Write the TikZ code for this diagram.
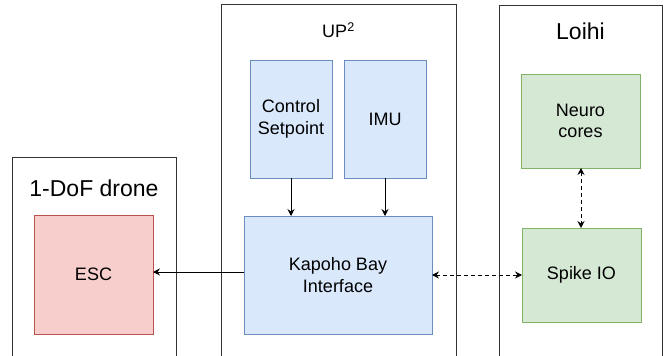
\documentclass[tikz,border=0pt]{standalone}
\usepackage{fontspec}
\setmainfont{Liberation Sans}
\usetikzlibrary{arrows.meta}
\definecolor{bluefill}{HTML}{DAE8FC}
\definecolor{bluedraw}{HTML}{6C8EBF}
\definecolor{redfill}{HTML}{F8CECC}
\definecolor{reddraw}{HTML}{B85450}
\definecolor{greenfill}{HTML}{D5E8D4}
\definecolor{greendraw}{HTML}{82B366}
\definecolor{outline}{HTML}{333333}
\begin{document}
\begin{tikzpicture}[x=1pt,y=-1pt,
  outerbox/.style={draw=outline,line width=0.9pt},
  blk/.style={draw,line width=0.8pt},
  bluebox/.style={blk,fill=bluefill,draw=bluedraw},
  redbox/.style={blk,fill=redfill,draw=reddraw},
  greenbox/.style={blk,fill=greenfill,draw=greendraw},
  lbl/.style={align=center,font=\fontsize{18}{21.5}\selectfont},
  title/.style={font=\fontsize{23}{27}\selectfont},
  conn/.style={line width=0.8pt,-{Stealth[length=7pt,width=7pt,inset=2.5pt]}},
  dconn/.style={line width=0.8pt,dash pattern=on 4pt off 3pt,{Stealth[length=7pt,width=7pt,inset=2.5pt]}-{Stealth[length=7pt,width=7pt,inset=2.5pt]}}
]
\useasboundingbox (0,0) rectangle (665,356);
\fill[white] (0,0) rectangle (665,356);
% outer containers
\draw[outerbox] (12,360) -- (12,157) -- (176,157) -- (176,360);
\draw[outerbox] (221,360) -- (221,4) -- (456,4) -- (456,360);
\draw[outerbox] (499,360) -- (499,5) -- (662,5) -- (662,360);
\node[title] (tdrone) at (94,188) {1-DoF drone};
\node[lbl] (tup) at (338.5,30) {UP\textsuperscript{2}};
\node[title] (tloihi) at (580.5,31) {Loihi};
% blocks
\path[redbox] (34,215) rectangle (153,334);
\node[lbl] (esc) at (93.5,274.5) {ESC};
\coordinate (escE) at (153,272);
\path[bluebox] (250,60) rectangle (332,178);
\node[lbl] (ctrl) at (291,119) {Control\\Setpoint};
\path[bluebox] (344,60) rectangle (426,178);
\node[lbl] (imu) at (385,119) {IMU};
\path[bluebox] (244,216) rectangle (432,334);
\node[lbl] (kb) at (338,275) {Kapoho Bay\\Interface};
\path[greenbox] (521,74) rectangle (640,168);
\node[lbl] (neuro) at (580.5,121) {Neuro\\cores};
\path[greenbox] (522,228) rectangle (641,322);
\node[lbl] (spike) at (581.5,275) {Spike IO};
% anchors for connectors
\coordinate (ctrlS) at (291,178);
\coordinate (imuS) at (385,178);
\coordinate (kbN1) at (291,216);
\coordinate (kbN2) at (385,216);
\coordinate (kbW) at (244,272);
\coordinate (kbE) at (432,275);
\coordinate (spW) at (522,275);
\coordinate (neS) at (581,168);
\coordinate (spN) at (581,228);
% connectors
\draw[conn] (ctrlS) -- (kbN1);
\draw[conn] (imuS) -- (kbN2);
\draw[conn] (kbW) -- (escE);
\draw[dconn] (kbE) -- (spW);
\draw[dconn] (neS) -- (spN);
\end{tikzpicture}
\end{document}
